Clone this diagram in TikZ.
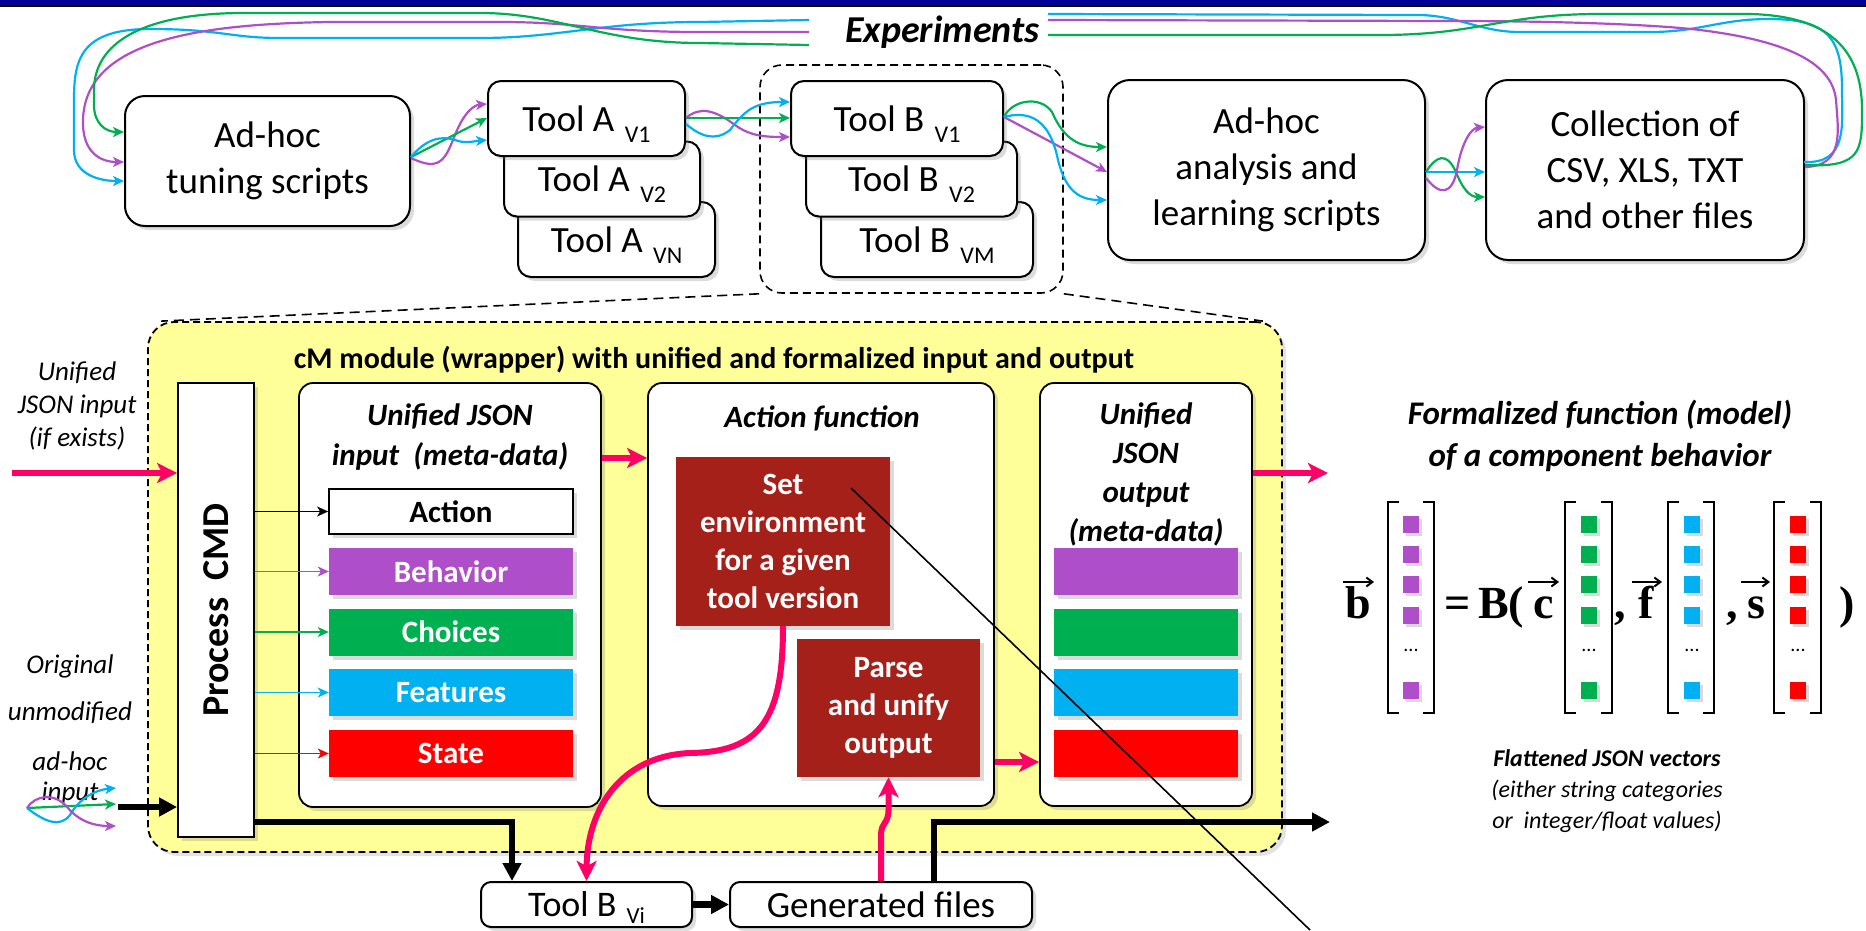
\documentclass[tikz,border=0pt]{standalone}
\usepackage{fontspec}
\setmainfont{Carlito}
\newfontfamily\serifbf{Liberation Serif}
\usetikzlibrary{arrows.meta,shadows,calc}
\definecolor{cpurple}{RGB}{174,78,200}
\definecolor{cgreen}{RGB}{0,176,80}
\definecolor{cblue}{RGB}{0,176,240}
\definecolor{cred}{RGB}{255,0,0}
\definecolor{cpink}{RGB}{255,0,102}
\definecolor{cyellow}{RGB}{255,255,153}
\definecolor{cdark}{RGB}{166,32,26}
\definecolor{cnavy}{RGB}{0,0,150}
\newcommand\myfs[2]{\fontsize{#1}{#2}\selectfont}
\newcommand\tsub[1]{\hspace{0.28em}\raisebox{-11pt}[0pt][0pt]{\myfs{24}{24}#1}}
\newcommand\tsubb[1]{\hspace{0.28em}\raisebox{-7pt}[0pt][0pt]{\myfs{23}{23}#1}}
\begin{document}
\begin{tikzpicture}[x=1pt,y=-1pt,
  shd/.style={drop shadow={opacity=0.28,shadow xshift=4pt,shadow yshift=-4pt}},
  rbox/.style={draw,line width=2pt,fill=white,rounded corners=20pt,shd,inner sep=0pt,align=center,font=\myfs{37}{46}},
  tool/.style={rbox,rounded corners=13pt,minimum height=75pt,font=\myfs{37}{44}},
  panel/.style={draw,line width=1.8pt,fill=white,rounded corners=14pt,shd,inner sep=0pt},
  bar/.style={inner sep=0pt,minimum height=47pt,font=\myfs{31}{36}\bfseries,text=white,shd},
  redbox/.style={fill=cdark,inner sep=0pt,text=white,font=\myfs{31}{38}\bfseries,align=center,shd},
  carr/.style={line width=2.2pt,-{Stealth[length=11pt,width=10pt,inset=3pt]}},
  loopline/.style={line width=2.2pt},
  pk/.style={cpink,line width=6pt,-{Stealth[length=20pt,width=20pt,inset=5pt]}},
  blk/.style={line width=6.5pt,-{Triangle[length=18pt,width=18pt]}},
  ital/.style={font=\myfs{27}{33}\itshape,align=center},
  bititle/.style={font=\myfs{31}{40}\bfseries\itshape,align=center},
  mfont/.style={font=\serifbf\bfseries\myfs{46}{46},inner sep=0pt},
  varr/.style={line width=2pt,-{Straight Barb[length=6pt,width=9pt]}},
  sq/.style={minimum width=16pt,minimum height=17pt,inner sep=0pt,drop shadow={opacity=0.3,shadow xshift=3pt,shadow yshift=-3pt}}
]
\useasboundingbox (0,0) rectangle (1866,930);
% top bar
\fill[cnavy] (0,0) rectangle (1866,4.5);
\fill[black] (0,4.5) rectangle (1866,6.5);

% ---------- top row ----------
\node[rbox,minimum width=285pt,minimum height=130pt] (tune) at (267.5,161) {Ad-hoc\\tuning scripts};
\node[tool,minimum width=197pt] (tAN) at (616.5,239.5) {Tool A\tsub{VN}};
\node[tool,minimum width=196pt] (tA2) at (602,179) {Tool A\tsub{V2}};
\node[tool,minimum width=197pt] (tA1) at (586.5,118.5) {Tool A\tsub{V1}};
\node[draw,line width=1.6pt,dash pattern=on 8pt off 5pt,rounded corners=22pt,minimum width=303pt,minimum height=228pt,inner sep=0pt] (grp) at (911.5,179) {};
\node[tool,minimum width=212pt] (tBM) at (927,239.5) {Tool B\tsub{VM}};
\node[tool,minimum width=211pt] (tB2) at (911.5,179) {Tool B\tsub{V2}};
\node[tool,minimum width=212pt] (tB1) at (897,118.5) {Tool B\tsub{V1}};
\node[rbox,rounded corners=22pt,minimum width=317pt,minimum height=180pt] (ana) at (1266.5,170) {Ad-hoc\\analysis and\\learning scripts};
\node[rbox,rounded corners=22pt,minimum width=318pt,minimum height=180pt] (coll) at (1645,170) {Collection of\\CSV, XLS, TXT\\and other files};

\node[font=\myfs{38}{40}\bfseries\itshape,inner sep=0pt] (exp) at (942.5,32) {Experiments};
\coordinate (eR) at (1048,0);
\coordinate (eL) at (809,0);

% loops: right part (from collection to Experiments)
\draw[loopline,cblue] (1804,162) .. controls (1848,164) and (1842,125) .. (1842,90) .. controls (1842,40) and (1830,19) .. (1769,19) .. controls (1720,19) and (1700,32) .. (1650,32) -- (1520,32) .. controls (1480,32) and (1460,16) .. (1420,15) -- (eR |- 0,14);
\draw[loopline,cpurple] (1805,167) .. controls (1845,166) and (1838,130) .. (1836,100) .. controls (1832,60) and (1780,40) .. (1700,30) .. controls (1650,24) and (1550,21) .. (1450,21) -- (eR |- 0,20);
\draw[loopline,cgreen] (1805,165) .. controls (1862,168) and (1862,150) .. (1862,110) .. controls (1862,50) and (1830,16) .. (1750,14) -- (1600,14) .. controls (1500,14) and (1480,35) .. (1380,35) -- (eR |- 0,35);
% loops: left part (from Experiments to tuning scripts)
\draw[carr,cblue] (eL |- 0,20) -- (700,22) .. controls (600,22) and (560,38) .. (480,38) -- (280,38) .. controls (230,38) and (220,29) .. (150,29) .. controls (80,29) and (74,60) .. (74,100) -- (74,150) .. controls (74,175) and (100,181) .. (tune.west |- 0,181);
\draw[carr,cpurple] (eL |- 0,32) -- (700,32) .. controls (600,32) and (580,22) .. (500,22) -- (330,22) .. controls (200,24) and (85,40) .. (83,120) .. controls (82,152) and (100,162) .. (tune.west |- 0,162);
\draw[carr,cgreen] (eL |- 0,45) -- (700,43) .. controls (600,43) and (560,13) .. (480,13) -- (240,13) .. controls (130,14) and (94,50) .. (94,90) -- (94,105) .. controls (94,123) and (105,132) .. (tune.west |- 0,132);

% tuning -> Tool A
\draw[carr,cpurple] (tune.east |- 0,158) .. controls (440,172) and (445,160) .. (455,135) .. controls (465,110) and (475,105) .. (tA1.west |- 0,104);
\draw[carr,cgreen] (tune.east |- 0,157) -- (tA1.west |- 0,118);
\draw[carr,cblue] (tune.east |- 0,157) .. controls (425,140) and (440,135) .. (455,140) .. controls (465,144) and (475,141) .. (tA1.west |- 0,140);
% Tool A -> Tool B
\draw[carr,cpurple] (tA1.east |- 0,118) .. controls (700,106) and (715,110) .. (735,125) .. controls (750,136) and (765,137) .. (tB1.west |- 0,137);
\draw[carr,cgreen] (tA1.east |- 0,118) -- (tB1.west |- 0,118);
\draw[carr,cblue] (tA1.east |- 0,124) .. controls (700,136) and (715,142) .. (730,130) .. controls (745,110) and (755,102) .. (tB1.west |- 0,102);
% Tool B -> analysis
\draw[carr,cgreen] (tB1.east |- 0,117) .. controls (1012,100) and (1040,95) .. (1052,112) .. controls (1064,140) and (1080,147) .. (ana.west |- 0,147);
\draw[carr,cpurple] (tB1.east |- 0,117) -- (ana.west |- 0,172);
\draw[carr,cblue] (tB1.east |- 0,117) .. controls (1030,110) and (1050,120) .. (1058,160) .. controls (1066,192) and (1080,200) .. (ana.west |- 0,200);
% analysis -> collection
\draw[carr,cgreen] (ana.east |- 0,172) .. controls (1436,156) and (1446,152) .. (1455,170) .. controls (1463,190) and (1470,197) .. (coll.west |- 0,197);
\draw[carr,cblue] (ana.east |- 0,172) -- (coll.west |- 0,172);
\draw[carr,cpurple] (ana.east |- 0,178) .. controls (1440,196) and (1452,195) .. (1457,170) .. controls (1462,140) and (1472,128) .. (coll.west |- 0,127);

% ---------- module ----------
\node[draw,line width=1.8pt,dash pattern=on 7pt off 4pt,fill=cyellow,rounded corners=26pt,minimum width=1134pt,minimum height=530pt,inner sep=0pt,drop shadow={opacity=0.22,shadow xshift=4pt,shadow yshift=-4pt}] (mod) at (715,587) {};
\draw[line width=1.6pt,dash pattern=on 10pt off 6pt] (grp.south west) -- ([xshift=14pt]mod.north west);
\draw[line width=1.6pt,dash pattern=on 10pt off 6pt] (grp.south east) -- ([xshift=-20pt]mod.north east);
\node[font=\myfs{30}{34}\bfseries,inner sep=0pt] (modT) at (714,360) {cM module (wrapper) with unified and formalized input and output};

\node[draw,line width=1.8pt,fill=white,minimum width=76pt,minimum height=454pt,inner sep=0pt,shd] (proc) at (216,610) {};
\node[rotate=90,font=\myfs{38}{40}\bfseries,inner sep=0pt] (procT) at (proc.center) {Process~~CMD};

\node[panel,minimum width=302pt,minimum height=424pt] (inp) at (450,595) {};
\node[bititle] (inpT) at (450,437) {Unified JSON\\input~~(meta-data)};
\node[bar,fill=white,draw,line width=1.8pt,text=black,minimum width=244pt,minimum height=45pt] (bAct) at (451,511.5) {Action};
\node[bar,fill=cpurple,minimum width=244pt] (bBeh) at (451,571.5) {Behavior};
\node[bar,fill=cgreen,minimum width=244pt] (bCho) at (451,632) {Choices};
\node[bar,fill=cblue,minimum width=244pt] (bFea) at (451,692.5) {Features};
\node[bar,fill=cred,minimum width=244pt] (bSta) at (451,753.5) {State};

\node[panel,minimum width=346pt,minimum height=423pt] (actp) at (821,594.5) {};
\node[bititle] (actT) at (822,418) {Action function};
\node[redbox,minimum width=214pt,minimum height=169pt] (setenv) at (783,541.5) {Set\\environment\\for a given\\tool version};
\node[redbox,minimum width=183pt,minimum height=138pt] (parse) at (888.5,708) {Parse\\and unify\\output};

\node[panel,minimum width=212pt,minimum height=423pt] (outp) at (1146,594.5) {};
\node[font=\myfs{31}{39}\bfseries\itshape,align=center] (outT) at (1146,474) {Unified\\JSON\\output\\(meta-data)};
\node[bar,fill=cpurple,minimum width=184pt] (oBeh) at (1146,571.5) {};
\node[bar,fill=cgreen,minimum width=184pt] (oCho) at (1146,632) {};
\node[bar,fill=cblue,minimum width=184pt] (oFea) at (1146,692.5) {};
\node[bar,fill=cred,minimum width=184pt] (oSta) at (1146,753.5) {};

% process cmd arrows
\draw[carr,line width=1.6pt,black] (proc.east |- bAct) -- (bAct.west);
\draw[carr,line width=1.6pt,cpurple] (proc.east |- bBeh) -- (bBeh.west);
\draw[carr,line width=1.6pt,cgreen] (proc.east |- bCho) -- (bCho.west);
\draw[carr,line width=1.6pt,cblue] (proc.east |- bFea) -- (bFea.west);
\draw[carr,line width=1.6pt,cred] (proc.east |- bSta) -- (bSta.west);

% bottom boxes
\node[rbox,rounded corners=10pt,minimum width=211pt,minimum height=45pt,font=\myfs{36}{40}] (tBi) at (586.5,904.5) {Tool B\tsubb{Vi}};
\node[rbox,rounded corners=10pt,minimum width=302pt,minimum height=45pt,font=\myfs{37}{40}] (gen) at (881,904.5) {Generated files};

% left annotations
\node[ital] (ujin) at (77,406) {Unified\\JSON input\\(if exists)};
\node[ital] (orig1) at (70,666) {Original};
\node[ital] (orig2) at (70,713) {unmodified};
\node[ital] (orig3) at (70,761) {ad-hoc};
\node[ital] (orig4) at (70,793) {input};

% pink arrows
\coordinate (pin) at (12,473);
\draw[pk] (pin) -- (pin -| proc.west);
\draw[pk] (inp.east |- 0,458) -- (actp.west |- 0,458);
\draw[pk] (actp.east |- 0,762) -- (outp.west |- 0,762);
\coordinate (pout) at (1328,473);
\draw[pk] (outp.east |- pout) -- (pout);
\draw[pk] (setenv.south) .. controls (783,720) and (760,752) .. (690,753) .. controls (620,756) and (587,810) .. (tBi.north);
\draw[pk] (gen.north) -- (881,835) .. controls (881,822) and (888.5,824) .. (888.5,810) -- (parse.south);

% black thick arrows
\coordinate (bin) at (118,807);
\draw[blk] (bin) -- (bin -| proc.west);
\draw[blk] (proc.east |- 0,822) -| ([xshift=-74.5pt]tBi.north);
\draw[blk] (tBi.east) -- (gen.west);
\coordinate (bout) at (1330,822);
\draw[blk] ([xshift=53pt]gen.north) |- (bout);

% small input wiggles
\coordinate (w0) at (27,808);
\draw[carr,cgreen] (w0) -- (116,804);
\draw[carr,cblue] (w0) .. controls (45,822) and (60,828) .. (70,815) .. controls (80,798) and (95,790) .. (116,788);
\draw[carr,cpurple] (w0) .. controls (35,795) and (55,792) .. (68,808) .. controls (80,822) and (95,826) .. (116,826);

% ---------- formal model ----------
\node[font=\myfs{33}{42}\bfseries\itshape,align=center] (ftitle) at (1600,436) {Formalized function (model)\\of a component behavior};
\foreach \xl/\xr/\n in {1388/1434/b,1565/1612/c,1668/1714/f,1774/1821/s}{
  \draw[line width=2.2pt] (\xl+11,502) -| (\xl,713) -- (\xl+11,713);
  \draw[line width=2.2pt] (\xr-11,502) -| (\xr,713) -- (\xr-11,713);
}
\foreach \cx/\col/\n in {1411/cpurple/b,1589/cgreen/c,1692/cblue/f,1798/cred/s}{
  \foreach \cy in {524,554,584,615,690}
    \node[sq,fill=\col] (sq\n\cy) at (\cx,\cy) {};
  \node[font=\myfs{20}{20},inner sep=0pt] (dots\n) at (\cx,650) {...};
}
\node[mfont,anchor=base] (vb) at (1358,618) {b};
\node[mfont,anchor=base west] (eqB) at (1444,618) {=\,B(};
\node[mfont,anchor=base] (vc) at (1544,618) {c};
\node[mfont,anchor=base] (cm1) at (1620,618) {,};
\node[mfont,anchor=base] (vf) at (1646,618) {f};
\node[mfont,anchor=base] (cm2) at (1732,618) {,};
\node[mfont,anchor=base] (vs) at (1756,618) {s};
\node[mfont,anchor=base] (rp) at (1847,618) {)};
\draw[varr] (1343,582) -- (1374,582);
\draw[varr] (1528,582) -- (1559,582);
\draw[varr] (1632,582) -- (1662,582);
\draw[varr] (1741,582) -- (1770,582);

\node[font=\myfs{24}{31},align=center] (flat) at (1607,791) {\textbf{\textit{Flattened JSON vectors}}\\\textit{(either string categories}\\\textit{or~~integer/float values)}};

% thin diagonal line
\coordinate (d1) at (851,488);
\coordinate (d2) at (1310,930);
\draw[line width=1.6pt] (d1) -- (d2);
\end{tikzpicture}
\end{document}
